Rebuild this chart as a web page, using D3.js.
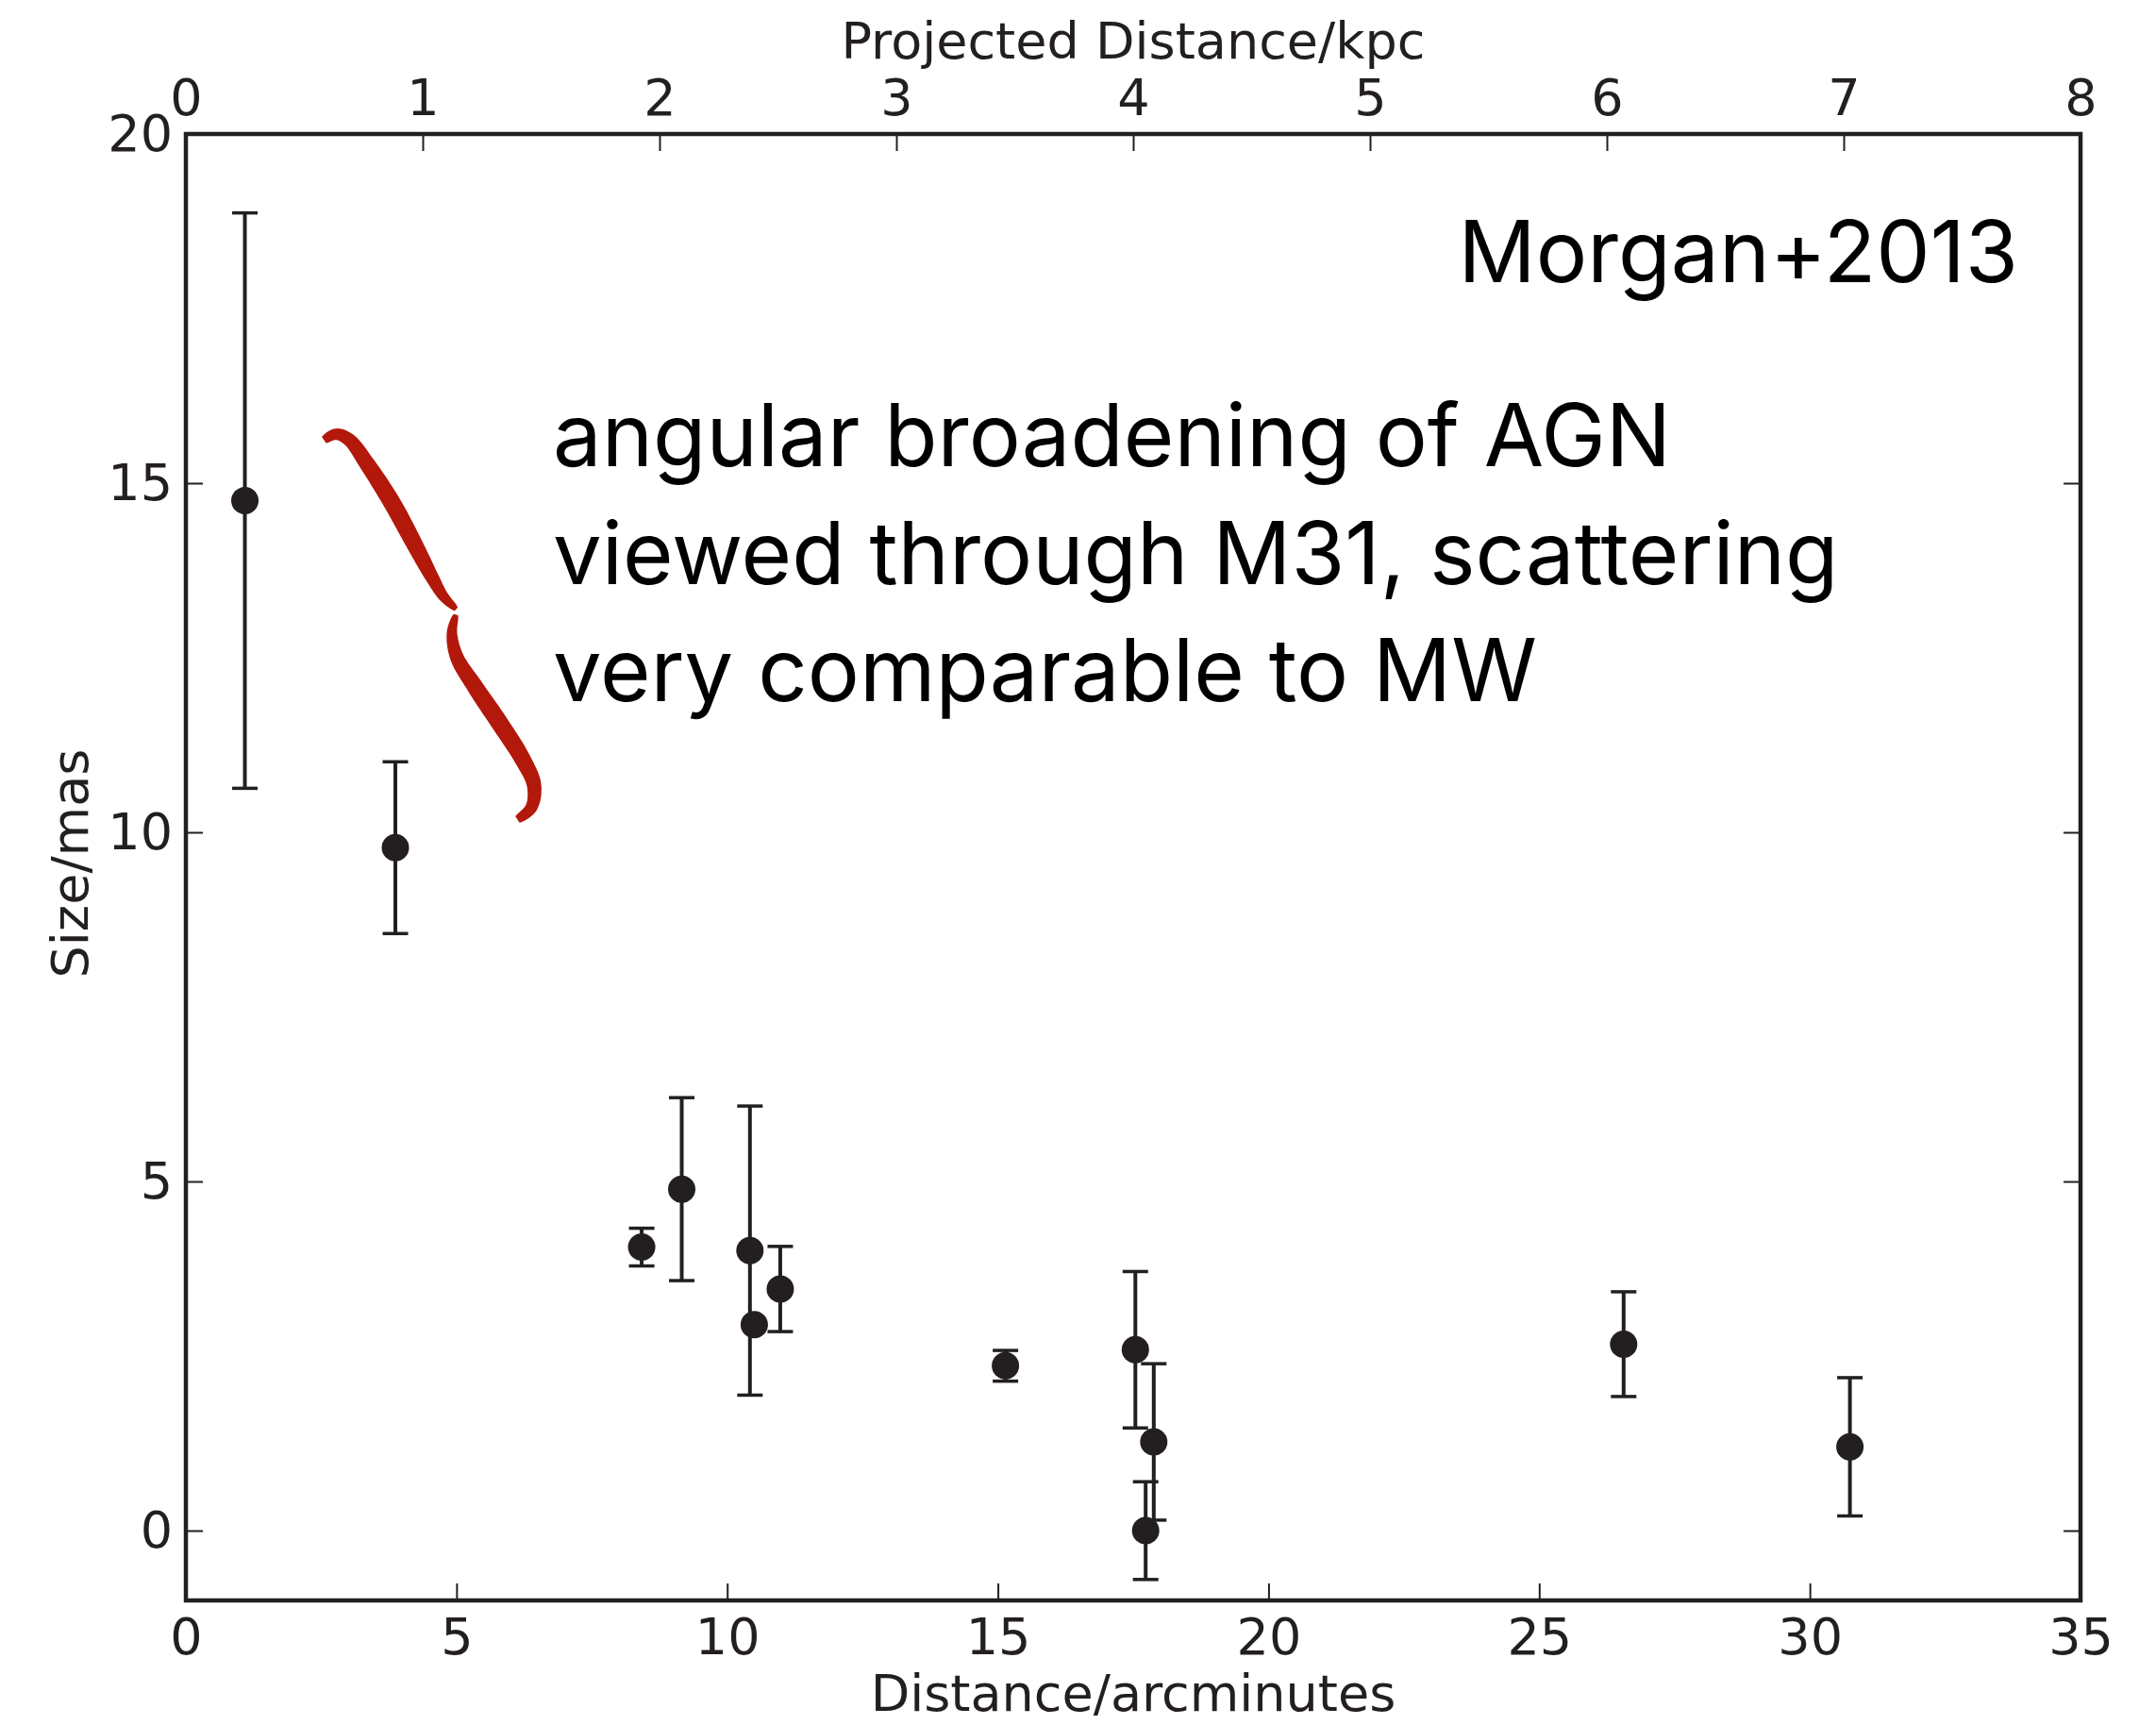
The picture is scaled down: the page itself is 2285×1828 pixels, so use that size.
<!DOCTYPE html>
<html>
<head>
<meta charset="utf-8">
<script src="https://cdn.jsdelivr.net/npm/d3@7"></script>
<style>
  html, body { margin: 0; padding: 0; background: #ffffff; }
  svg { display: block; }
</style>
</head>
<body>
<div id="chart"></div>
<script>
// Source sizes versus projected angular distance from M31's centre
const distArcmin = [1.09, 3.87, 8.42, 9.16, 10.42, 10.50, 10.98, 15.14, 17.54, 17.73, 17.88, 26.56, 30.74];
const sizeMas    = [14.75, 9.78, 4.06, 4.89, 4.01, 2.95, 3.46, 2.36, 2.59, 0.00, 1.27, 2.67, 1.20];
const sizeErr    = [4.12, 1.23, 0.27, 1.31, 2.07, 0.00, 0.61, 0.22, 1.12, 0.70, 1.12, 0.75, 0.99];

// Axis ticks
const xTicks    = [0, 5, 10, 15, 20, 25, 30, 35];
const kpcTicks  = [0, 1, 2, 3, 4, 5, 6, 7, 8];
const yTicks    = [0, 5, 10, 15, 20];

// Labels
const xLabel    = "Distance/arcminutes";
const xTopLabel = "Projected Distance/kpc";
const yLabel    = "Size/mas";
const refLabel  = "Morgan+2013";
const noteLines = ["angular broadening of AGN", "viewed through M31, scattering", "very comparable to MW"];

const W = 2285, H = 1828;
const plot = { left: 197, right: 2205, top: 142, bottom: 1696 };
const ink = "#231f20";
const axisFont = "'DejaVu Sans', sans-serif";
const noteFont = "Inter, Roboto, sans-serif";

const x    = d3.scaleLinear().domain([0, 35]).range([plot.left, plot.right]);
const xKpc = d3.scaleLinear().domain([0, 8]).range([plot.left, plot.right]);
const y    = d3.scaleLinear().domain([-1, 20]).range([plot.bottom, plot.top]);

const svg = d3.select("#chart").append("svg")
  .attr("width", W).attr("height", H)
  .attr("viewBox", `0 0 ${W} ${H}`);

svg.append("rect").attr("width", W).attr("height", H).attr("fill", "#ffffff");

// ---- axes (ticks point inward) ----
function styleAxis(g) {
  g.select(".domain").remove();
  g.selectAll(".tick line").attr("stroke", ink).attr("stroke-width", 2);
  g.selectAll(".tick text")
    .attr("fill", ink)
    .style("font-family", axisFont)
    .style("font-size", "54px");
}

const tickLen = 18;

svg.append("g")
  .attr("transform", `translate(0,${plot.bottom})`)
  .call(d3.axisBottom(x).tickValues(xTicks).tickFormat(d3.format("d"))
    .tickSizeInner(-tickLen).tickSizeOuter(0).tickPadding(19))
  .call(styleAxis);

svg.append("g")
  .attr("transform", `translate(0,${plot.top})`)
  .call(d3.axisTop(xKpc).tickValues(kpcTicks).tickFormat(d3.format("d"))
    .tickSizeInner(-tickLen).tickSizeOuter(0).tickPadding(20))
  .call(styleAxis);

svg.append("g")
  .attr("transform", `translate(${plot.left},0)`)
  .call(d3.axisLeft(y).tickValues(yTicks).tickFormat(d3.format("d"))
    .tickSizeInner(-tickLen).tickSizeOuter(0).tickPadding(14))
  .call(styleAxis);

svg.append("g")
  .attr("transform", `translate(${plot.right},0)`)
  .call(d3.axisRight(y).tickValues(yTicks).tickFormat("")
    .tickSizeInner(-tickLen).tickSizeOuter(0))
  .call(styleAxis);

// ---- frame ----
svg.append("rect")
  .attr("x", plot.left).attr("y", plot.top)
  .attr("width", plot.right - plot.left).attr("height", plot.bottom - plot.top)
  .attr("fill", "none").attr("stroke", ink).attr("stroke-width", 4.5);

// ---- axis titles ----
svg.append("text")
  .attr("x", (plot.left + plot.right) / 2).attr("y", 1813)
  .attr("text-anchor", "middle").attr("fill", ink)
  .style("font-family", axisFont).style("font-size", "54px")
  .text(xLabel);

svg.append("text")
  .attr("x", (plot.left + plot.right) / 2).attr("y", 62)
  .attr("text-anchor", "middle").attr("fill", ink)
  .style("font-family", axisFont).style("font-size", "54px")
  .text(xTopLabel);

svg.append("text")
  .attr("transform", `translate(93,${(plot.top + plot.bottom) / 2 - 4}) rotate(-90)`)
  .attr("text-anchor", "middle").attr("fill", ink)
  .style("font-family", axisFont).style("font-size", "54px")
  .text(yLabel);

// ---- error bars ----
const pts = distArcmin.map((d, i) => ({ x: d, y: sizeMas[i], e: sizeErr[i] }));
const capHalf = 13.5;

const bars = svg.append("g").selectAll("g")
  .data(pts.filter(p => p.e > 0))
  .join("g");

bars.append("line")
  .attr("x1", p => x(p.x)).attr("x2", p => x(p.x))
  .attr("y1", p => y(p.y + p.e)).attr("y2", p => y(p.y - p.e))
  .attr("stroke", ink).attr("stroke-width", 4);

bars.append("line")
  .attr("x1", p => x(p.x) - capHalf).attr("x2", p => x(p.x) + capHalf)
  .attr("y1", p => y(p.y + p.e)).attr("y2", p => y(p.y + p.e))
  .attr("stroke", ink).attr("stroke-width", 3.5);

bars.append("line")
  .attr("x1", p => x(p.x) - capHalf).attr("x2", p => x(p.x) + capHalf)
  .attr("y1", p => y(p.y - p.e)).attr("y2", p => y(p.y - p.e))
  .attr("stroke", ink).attr("stroke-width", 3.5);

// ---- markers ----
svg.append("g").selectAll("circle")
  .data(pts)
  .join("circle")
  .attr("cx", p => x(p.x)).attr("cy", p => y(p.y))
  .attr("r", 14.5)
  .attr("fill", ink);

// ---- annotation text ----
svg.append("text")
  .attr("x", 2139).attr("y", 299)
  .attr("text-anchor", "end").attr("fill", "#000")
  .style("font-family", noteFont).style("font-size", "91px")
  .text(refLabel);

const note = svg.append("text")
  .attr("fill", "#000")
  .style("font-family", noteFont).style("font-size", "92px");
const noteBase = [494, 619, 743];
noteLines.forEach((t, i) => {
  note.append("tspan").attr("x", 586).attr("y", noteBase[i]).text(t);
});

// ---- hand-drawn red brace (tapered ribbon along a smooth centreline) ----
function ribbon(points, wStart, wMid, wEnd) {
  const tmp = svg.append("path")
    .attr("d", d3.line().curve(d3.curveCatmullRom.alpha(0.5))(points))
    .attr("fill", "none");
  const node = tmp.node();
  const L = node.getTotalLength();
  const n = 80;
  const samp = d3.range(n + 1).map(i => node.getPointAtLength(L * i / n));
  tmp.remove();
  const left = [], right = [];
  samp.forEach((p, i) => {
    const a = samp[Math.max(0, i - 1)], b = samp[Math.min(n, i + 1)];
    let dx = b.x - a.x, dy = b.y - a.y;
    const len = Math.hypot(dx, dy) || 1;
    dx /= len; dy /= len;
    const t = i / n;
    const s = Math.pow(Math.sin(Math.PI * t), 0.6);
    const w = t < 0.5
      ? wStart + (wMid - wStart) * s
      : wEnd + (wMid - wEnd) * s;
    left.push([p.x - dy * w / 2, p.y + dx * w / 2]);
    right.push([p.x + dy * w / 2, p.y - dx * w / 2]);
  });
  return "M" + left.concat(right.reverse()).map(p => p.join(",")).join("L") + "Z";
}

const braceUpper = [[344, 466], [356, 460], [370, 466], [388, 490], [415, 532], [440, 578], [458, 612], [470, 632], [483, 645]];
const braceLower = [[483, 652], [479, 670], [484, 696], [503, 727], [530, 767], [553, 803], [566, 832], [563, 856], [549, 868]];
const braceRed = "#b2190b";

[[braceUpper, 7, 17, 4], [braceLower, 4, 17, 7]].forEach(([pts2, a, m, b]) => {
  svg.append("path")
    .attr("d", ribbon(pts2, a, m, b))
    .attr("fill", braceRed)
    .attr("stroke", braceRed).attr("stroke-width", 1.5).attr("stroke-linejoin", "round");
});
</script>
</body>
</html>
